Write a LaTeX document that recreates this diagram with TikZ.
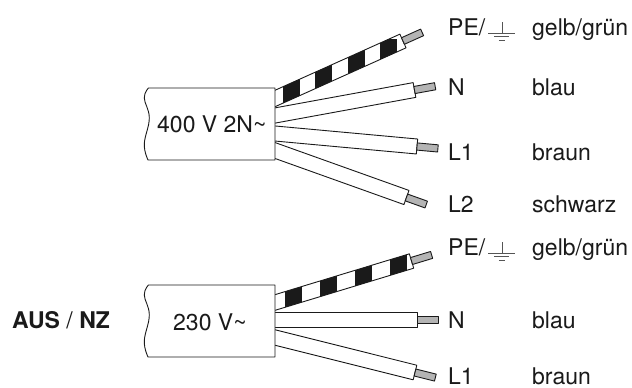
\documentclass[tikz,border=0pt]{standalone}
\usepackage{fontspec}
\setmainfont{TeX Gyre Heros}
\definecolor{ink}{HTML}{1A1A1A}
\definecolor{cond}{HTML}{B4B4B4}
\definecolor{gsym}{HTML}{555555}
\newcommand\mkwire[4]{%
  \begin{scope}[shift={(#1,#2)}, rotate=#3]
    \draw[wl, fill=white] (-12,-7.5) rectangle (#4,7.5);
    \draw[wl, fill=cond] (#4,-3.6) rectangle ({#4+21},3.6);
  \end{scope}}
\newcommand\mkpe[5]{%
  \begin{scope}[shift={(#1,#2)}, rotate=#3]
    \begin{scope}
      \clip (-12,-7.5) rectangle (#4,7.5);
      \fill[white] (-12,-7.5) rectangle (#4,7.5);
      \begin{scope}[rotate=-#3]
        \foreach \b in {#5} \fill[ink] ({\b-#1},-60) rectangle ({\b-#1+17},60);
      \end{scope}
    \end{scope}
    \draw[wl] (-12,-7.5) rectangle (#4,7.5);
    \draw[wl, fill=cond] (#4,-3.6) rectangle ({#4+21},3.6);
  \end{scope}}
\newcommand\gndsym[1]{%
  \draw[gl] ([shift={(3,-2)}]#1.base east) -- ([shift={(30,-2)}]#1.base east);
  \draw[gl] ([shift={(16.5,-2)}]#1.base east) -- ([shift={(16.5,-13)}]#1.base east);
  \draw[gl] ([shift={(9,1.5)}]#1.base east) -- ([shift={(24,1.5)}]#1.base east);
  \draw[gl] ([shift={(13.5,5)}]#1.base east) -- ([shift={(19.5,5)}]#1.base east);}
\begin{document}
\begin{tikzpicture}[x=1pt,y=-1pt,
  line join=round,
  wl/.style={draw=ink, line width=0.9pt},
  gl/.style={draw=gsym, line width=0.8pt},
  lbl/.style={anchor=base west, inner sep=0pt, text=ink, font=\fontsize{23}{27}\selectfont},
]
\useasboundingbox (0,0) rectangle (632,388);
\fill[white] (0,0) rectangle (632,388);

% ---------- top cable 400 V 2N~ ----------
\mkpe{275}{98.5}{24.2}{140.3}{283,315,348,380}
\mkwire{275}{115.5}{10.36}{141.8}
\mkwire{275}{133.5}{-5.23}{142.6}
\mkwire{275}{150.5}{-19.67}{139.6}
\draw[wl, fill=white] plot[smooth, tension=0.7] coordinates {(148.5,88) (144.3,98) (149.3,118) (144.3,144) (148,160)} -- (275,160) -- (275,88) -- cycle;
\node[lbl] (txt1) at (157,132) {400 V 2N\textasciitilde};

% ---------- bottom cable 230 V~ ----------
\mkpe{275}{302.5}{16.9}{142.7}{285,320,355,390}
\mkwire{275}{320}{0}{142}
\mkwire{275}{337.5}{-14.04}{144.3}
\draw[wl, fill=white] plot[smooth, tension=0.7] coordinates {(148.5,285) (144.3,295) (149.3,315) (144.3,341) (148,357)} -- (275,357) -- (275,285) -- cycle;
\node[lbl] (txt2) at (173,330) {230 V\textasciitilde};
\node[lbl] (aus) at (12,328) {\textbf{AUS} / \textbf{NZ}};

% ---------- labels top ----------
\node[lbl] (pe1) at (448,35) {PE/};
\gndsym{pe1}
\node[lbl] (gg1) at (532,35) {gelb/grün};
\node[lbl] (n1) at (448,95) {N};
\node[lbl] (bl1) at (532,95) {blau};
\node[lbl] (l11) at (448,160) {L1};
\node[lbl] (br1) at (532,160) {braun};
\node[lbl] (l21) at (448,212) {L2};
\node[lbl] (sw1) at (532,212) {schwarz};

% ---------- labels bottom ----------
\node[lbl] (pe2) at (448,255) {PE/};
\gndsym{pe2}
\node[lbl] (gg2) at (532,255) {gelb/grün};
\node[lbl] (n2) at (448,328) {N};
\node[lbl] (bl2) at (532,328) {blau};
\node[lbl] (l12) at (448,384.5) {L1};
\node[lbl] (br2) at (532,384.5) {braun};
\end{tikzpicture}
\end{document}
